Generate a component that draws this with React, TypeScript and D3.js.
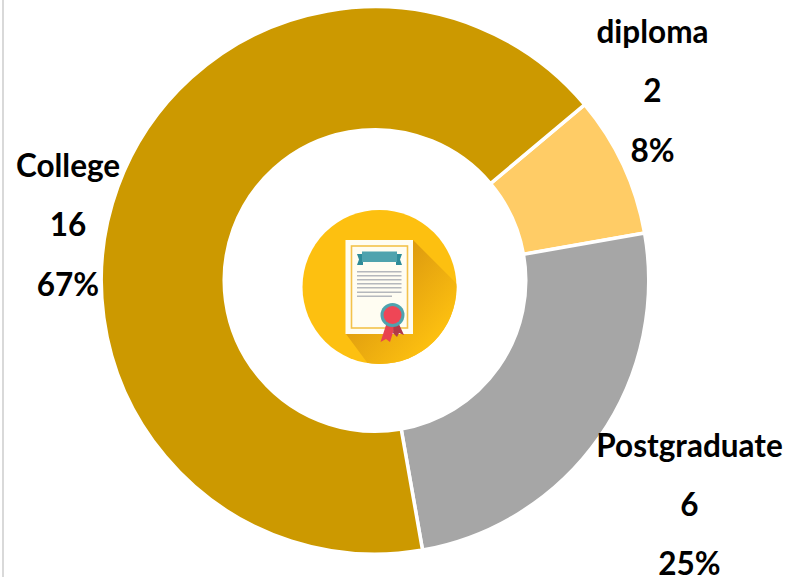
import React from "react";
import * as d3 from "d3";

const categories = ["diploma", "Postgraduate", "College"];
const counts = [2, 6, 16];
const percents = ["8%", "25%", "67%"];
const colors = ["#FFCC66", "#A6A6A6", "#CC9900"];
const labelAnchors: [number, number][] = [[652.5, 43], [689.5, 456.5], [68, 177]];
const lineGap = 59.3;

const W = 789, H = 577;
const cx = 375, cy = 280.5, R = 273.75, r = 150.75;
const start = (50 * Math.PI) / 180;

const FONT = "'Lato','Open Sans',sans-serif";

function Icon() {
  return (
    <g>
      <defs>
        <clipPath id="disc"><circle cx={379.5} cy={287} r={77} /></clipPath>
        <linearGradient id="shade" x1="0.15" y1="0.15" x2="0.72" y2="0.72">
          <stop offset="0" stopColor="#D4900F" />
          <stop offset="1" stopColor="#FDC010" />
        </linearGradient>
      </defs>
      <circle cx={379.5} cy={287} r={77} fill="#FDC010" />
      <path d="M413 240 L470 297 L470 380 L380 380 L346 334 L413 334 Z" fill="url(#shade)" clipPath="url(#disc)" />
      <rect x={345.5} y={240} width={67.5} height={94} fill="#FFFDF2" />
      <rect x={351.5} y={246} width={56} height={82} fill="none" stroke="#F3C24B" strokeWidth={1.6} />
      <path d="M357 254 H363 V265 H357 L359 259.5 Z M396 254 H402 L400 259.5 L402 265 H396 Z" fill="#2F8C99" />
      <rect x={362} y={251.5} width={35} height={10.5} fill="#4FA3AE" />
      {[271, 275, 279, 283, 287, 291.5].map((y) => (
        <rect key={y} x={357} y={y} width={44.5} height={1.5} fill="#B5B8BC" />
      ))}
      <rect x={357} y={295.5} width={35} height={1.5} fill="#B5B8BC" />
      <path d="M387 322 L380.5 342 L386 339 L390 342 L395 326 Z" fill="#E8434F" />
      <path d="M394 322 L393 333 L397 337 L399 333 L404 335 L398 322 Z" fill="#B23A48" />
      <circle cx={392.5} cy={315} r={12} fill="#4FA3AE" />
      <circle cx={392.5} cy={315} r={9} fill="#EF4656" />
    </g>
  );
}

export default function App() {
  const pie = d3.pie<number>().sort(null).startAngle(start).endAngle(start + 2 * Math.PI);
  const arc = d3.arc<d3.PieArcDatum<number>>().innerRadius(r).outerRadius(R);
  const arcs = pie(counts);
  return (
    <svg width={W} height={H} viewBox={`0 0 ${W} ${H}`} style={{ position: "absolute", left: 0, top: 0, background: "#fff" }}>
      <rect x={2} y={0} width={2} height={H} fill="#D9D9D9" />
      <g transform={`translate(${cx},${cy})`}>
        {arcs.map((a, i) => (
          <path key={categories[i]} d={arc(a) ?? ""} fill={colors[i]} stroke="#fff" strokeWidth={3.5} />
        ))}
      </g>
      <Icon />
      {categories.map((c, i) => {
        const [x, y] = labelAnchors[i];
        const lines = [c, String(counts[i]), percents[i]];
        return (
          <text key={c} x={x} textAnchor="middle" fontFamily={FONT} fontWeight={700} fontSize={31.5} fill="#000">
            {lines.map((t, j) => (
              <tspan key={j} x={x} y={y + j * lineGap}>{t}</tspan>
            ))}
          </text>
        );
      })}
    </svg>
  );
}
